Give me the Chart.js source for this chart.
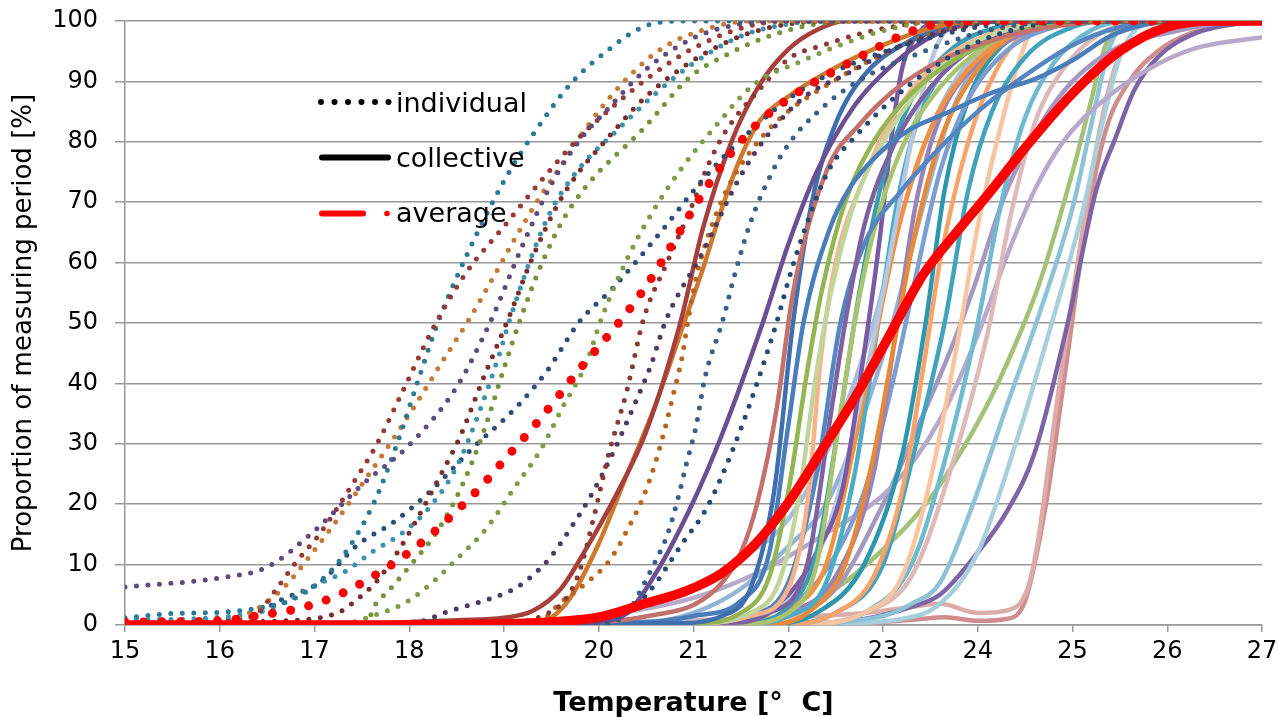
<!DOCTYPE html>
<html>
<head>
<meta charset="utf-8">
<script src="https://cdn.jsdelivr.net/npm/chart.js@4.4.0/dist/chart.umd.min.js"></script>
<style>
  html, body { margin: 0; padding: 0; background: #fff; }
  #wrap { width: 1279px; height: 717px; position: relative; }
</style>
</head>
<body>
<div id="wrap"><canvas id="chart"></canvas></div>
<script>
// proportion of measuring period [%] vs temperature as [T, %]

// individual (dotted) curves
const individualCurves = [
  [[15,6.3],[16,7.8],[16.5,9.6],[17,15.6],[17.5,23.2],[18,29.8],[18.5,39.4],[18.85,50],[19.2,63],[19.5,73],[19.8,80.3],[20.1,85.5],[20.5,92],[21,97.2],[21.5,99.5],[22,100],[27,100]],
  [[15,0.3],[16,0.5],[16.4,2],[16.6,6],[16.8,10.3],[17.05,15],[17.4,23.3],[17.66,30],[17.94,39],[18.27,49.7],[18.6,58.3],[19,66],[19.4,73.7],[19.8,80.8],[20.2,86.5],[20.6,91.5],[21,95.5],[21.5,98.8],[22,100],[27,100]],
  [[15,1.2],[15.5,1.9],[16,2.1],[16.4,2.8],[16.75,4.1],[17.05,7.1],[17.3,11.4],[17.62,20],[17.86,29.5],[18.1,40.8],[18.3,50],[18.6,61],[19,73.5],[19.34,82],[19.72,89.9],[20.1,95.2],[20.4,98.5],[20.65,99.8],[21,100],[27,100]],
  [[15,0.2],[16,0.3],[16.37,2.5],[16.67,6.1],[16.92,10.8],[17.22,17],[17.51,23.5],[17.8,30.1],[18.08,36.8],[18.34,43.4],[18.62,50.3],[18.87,57.1],[19.12,64.1],[19.38,70.9],[19.6,76],[19.9,83],[20.28,90.2],[20.67,95.5],[21.1,98.5],[21.6,100],[27,100]],
  [[15,0],[16,0.5],[16.9,0.9],[17.27,2.2],[17.47,4.5],[17.65,7.1],[17.87,11.9],[18.07,17.2],[18.31,24.2],[18.54,31.3],[18.77,40.4],[19.04,50.5],[19.3,60.8],[19.57,69.7],[19.8,75.2],[20.01,79.1],[20.5,87.5],[21,93.5],[21.5,97.5],[22,99.5],[22.5,100],[27,100]],
  [[15,0.8],[16,1.3],[16.5,2.5],[17.06,6.9],[17.32,8.8],[17.62,12.2],[17.94,15.4],[18.22,19.6],[18.5,26.2],[18.74,35.3],[18.95,44.8],[19.06,50.5],[19.31,61.8],[19.51,69],[19.8,75.7],[20.2,82],[20.6,88],[21,93],[21.5,97.5],[22,99.5],[22.5,100],[27,100]],
  [[15,0],[17.55,0],[17.62,2.8],[17.79,5.8],[18.04,10.4],[18.29,15.4],[18.54,22.5],[18.78,31.8],[19.01,43],[19.17,50.5],[19.4,59.9],[19.62,67],[19.83,71.9],[20,75],[20.46,82],[20.96,90.7],[21.3,94],[21.8,97.5],[22.3,99.5],[22.8,100],[27,100]],
  [[15,0],[17.2,0],[17.7,2],[17.97,3.8],[18.27,7.4],[18.46,10.3],[18.82,16.1],[19.1,22.5],[19.39,29.1],[19.62,36.1],[19.87,43.4],[20.03,50.8],[20.33,61.6],[20.58,68.7],[20.86,75.3],[21.26,83.1],[21.63,89.4],[22.16,93.5],[22.63,96.5],[23.1,98.8],[23.6,100],[27,100]],
  [[15,0.5],[16,0.8],[16.35,1.6],[16.64,4.1],[17.06,7.1],[17.45,13.2],[17.84,17.1],[18.24,22.4],[18.67,29.3],[19.14,36.2],[19.46,42.2],[19.8,50.3],[20.15,55.8],[20.63,64.6],[21.14,74.5],[21.67,82.8],[22.02,87.3],[22.37,90.7],[22.72,93.2],[23.07,95.2],[23.42,96.9],[24,99],[24.5,100],[27,100]],
  [[15,0],[19,0.3],[19.4,1.5],[19.66,4.5],[19.8,9],[19.95,18],[20.1,28],[20.3,39],[20.47,50.5],[20.72,60],[20.96,68.5],[21.17,76.7],[21.35,82],[21.67,88.2],[22.02,93.9],[22.37,96],[22.72,97.7],[23.2,99.3],[23.7,100],[27,100]],
  [[15,0],[18,0.3],[18.46,2.5],[18.88,4.5],[19.12,6.1],[19.33,8.6],[19.5,11.4],[19.71,16.2],[19.91,21.2],[20.15,28.5],[20.36,35.9],[20.55,43],[20.71,50.5],[21.1,61.8],[21.46,73.3],[21.73,80],[22.16,87.3],[22.65,91.5],[23.15,95.7],[23.7,98.5],[24.3,100],[27,100]],
  [[15,0],[19.3,0],[19.62,4],[19.91,7.5],[20.12,10.8],[20.31,16],[20.47,21.2],[20.6,27],[20.7,32.6],[20.79,38.4],[20.88,44.4],[20.94,50.2],[21.04,58.3],[21.15,64.2],[21.35,72],[21.63,79],[21.95,84.4],[22.44,89.7],[23,94.5],[23.5,97.8],[24,99.5],[24.5,100],[27,100]],
  [[15,0],[20,0],[20.3,2],[20.46,6.3],[20.59,10.3],[20.73,15.2],[20.84,21.2],[20.93,27],[21.03,33.1],[21.12,40.9],[21.31,50.5],[21.44,58.3],[21.6,66.6],[21.83,75],[22.02,80],[22.3,84.8],[22.72,89.9],[23.42,94.9],[24,98],[24.5,99.5],[25,100],[27,100]],
  [[15,0],[20,0],[20.43,3.8],[20.61,7.1],[20.75,10.4],[20.89,13.7],[21.14,19.4],[21.49,32.1],[21.86,49.2],[22.05,59.6],[22.28,70],[22.44,75.7],[22.72,81.1],[23.07,86.6],[23.5,92],[24,96.5],[24.5,99],[25,100],[27,100]]
];
const individualColors = ['#5e4a7e','#953a37','#2b7a93','#c47a34','#7a2e2b','#3a93aa','#76923c','#7e9b45',
  '#2c4d75','#8c3836','#4d3b62','#b9651e','#3a5f8b','#254a75'];

// collective (solid) curves
const collectiveCurves = [
  [[15,0],[17.5,0],[18,0.5],[18.5,0.8],[19,1.2],[19.3,2.3],[19.6,6],[19.9,13.5],[20.2,22],[20.5,32],[20.86,50],[21.1,65.7],[21.4,80],[21.7,89.5],[22,95.3],[22.3,98.5],[22.6,100],[27,100]],
  [[15,0],[19.3,0],[19.5,1.2],[19.7,4.5],[20,13.5],[20.3,25],[20.6,36.5],[20.9,50],[21.1,59],[21.3,69],[21.5,77.5],[21.7,83.5],[22,87.5],[22.5,92.3],[23,96],[23.5,98.8],[24,100],[27,100]],
  [[15,0],[19.5,0],[20,0.5],[20.3,2],[20.6,8.5],[21,20.5],[21.3,31.5],[21.73,50],[22,63],[22.3,75],[22.7,86],[23,91.3],[23.5,97.3],[24,99.7],[24.5,100],[27,100]],
  [[15,0],[20,0.5],[20.6,1.7],[21,3.3],[21.3,7],[21.5,12],[21.67,20],[21.88,36],[22.05,55],[22.4,75],[22.76,83],[23.1,88.3],[23.46,92.2],[23.8,94.8],[24.3,97.5],[25,99.5],[25.5,100],[27,100]],
  [[15,0],[20.8,0.3],[21.3,1.5],[21.6,6],[21.85,22],[22.05,50],[22.25,70],[22.5,83],[22.8,91],[23.2,96],[23.7,99],[24.2,100],[27,100]],
  [[15,0],[20.5,0.5],[21,1.5],[21.5,4],[21.8,12],[22,33],[22.16,50],[22.44,65.7],[22.65,72.4],[22.94,77.8],[23.28,82],[23.63,84.5],[24.13,88],[24.62,90.5],[25,93.5],[25.4,97.5],[25.8,99.5],[26.2,100],[27,100]],
  [[15,0],[21,0.3],[21.5,2],[21.8,8],[22,22],[22.2,42],[22.35,55],[22.6,70],[22.9,80],[23.3,88],[23.8,94],[24.3,97.5],[24.8,99.5],[25.2,100],[27,100]],
  [[15,0],[21,0.3],[21.6,2],[21.9,7],[22.1,20],[22.3,42],[22.45,55],[22.7,70],[23,80],[23.4,89],[23.8,95],[24.3,98.5],[25,100],[27,100]],
  [[15,0],[21,0.2],[21.6,1.5],[22,6],[22.2,20],[22.35,45],[22.5,60],[22.8,74],[23.1,84],[23.5,92],[24,97],[24.5,99.5],[25,100],[27,100]],
  [[15,0],[21.3,0.3],[21.8,2],[22.2,10],[22.45,35],[22.6,50],[22.8,66],[23.1,79],[23.5,89],[24,96],[24.5,99],[25,100],[27,100]],
  [[15,0],[21,0.2],[21.6,1.5],[22,7],[22.3,25],[22.55,50],[22.8,63],[23.2,72],[23.6,79],[24,85],[24.5,91],[25,96],[25.5,99],[26,100],[27,100]],
  [[15,0],[21.5,0.2],[22,2],[22.3,10],[22.55,35],[22.7,50],[22.9,65],[23.2,79],[23.6,89],[24.1,96],[24.6,99.5],[25,100],[27,100]],
  [[15,0],[21.5,0.3],[22,3],[22.3,12],[22.55,35],[22.75,55],[23,74],[23.3,87],[23.7,95],[24.2,99],[24.8,100],[27,100]],
  [[15,0],[21,0.3],[21.6,1.5],[22,5],[22.3,12],[22.58,23],[22.8,45],[22.95,62],[23.1,82],[23.2,92],[23.35,97.5],[23.6,100],[27,100]],
  [[15,0],[21,0.5],[21.7,2],[22.2,8],[22.5,20],[22.8,40],[23,55],[23.3,80],[23.5,93],[23.7,99],[24,100],[27,100]],
  [[15,0],[21.5,0.3],[22,2.5],[22.4,10],[22.7,30],[22.95,50],[23.2,68],[23.5,82],[23.9,92],[24.4,98],[25,100],[27,100]],
  [[15,0],[21.5,0.2],[22,1.5],[22.4,7],[22.7,25],[22.95,50],[23.15,70],[23.4,85],[23.8,94],[24.3,98.5],[25,100],[27,100]],
  [[15,0],[21.8,0.2],[22.2,2],[22.6,10],[22.9,28],[23.1,45],[23.3,62],[23.6,80],[24,92],[24.4,98],[25,100],[27,100]],
  [[15,0],[21.5,0.3],[22,2],[22.5,8],[22.9,25],[23.15,50],[23.35,70],[23.6,84],[24,93],[24.5,98],[25.2,100],[27,100]],
  [[15,0],[21.3,0.3],[21.8,2],[22.3,7],[22.8,22],[23.1,40],[23.35,58],[23.6,75],[23.9,87],[24.3,95],[24.8,99],[25.3,100],[27,100]],
  [[15,0],[20.5,0.5],[21,2],[21.5,6],[22,13],[22.4,20],[22.8,35],[23.1,50],[23.4,68],[23.7,84],[24,93],[24.4,98],[25,100],[27,100]],
  [[15,0],[19.5,0.3],[20,1],[20.5,3],[21,6.5],[21.5,11],[22,17.5],[22.5,32],[22.9,50],[23.2,68],[23.5,82],[23.8,91],[24.2,97],[24.7,99.5],[25,100],[27,100]],
  [[15,0],[21.8,0.2],[22.3,2],[22.8,10],[23.2,28],[23.45,50],[23.65,72],[23.9,87],[24.2,95],[24.7,99],[25.2,100],[27,100]],
  [[15,0],[22,0.2],[22.5,2],[22.9,8],[23.2,22],[23.45,45],[23.6,60],[23.9,80],[24.2,92],[24.5,98],[25,100],[27,100]],
  [[15,0],[22,0.3],[22.5,2],[23,10],[23.35,30],[23.65,50],[23.9,72],[24.15,85],[24.5,94],[25,99],[25.5,100],[27,100]],
  [[15,0],[22.2,0.2],[22.8,2],[23.2,8],[23.5,24],[23.8,48],[24,66],[24.25,83],[24.45,94],[24.6,99],[25,100],[27,100]],
  [[15,0],[22.3,0.2],[22.8,2],[23.3,10],[23.7,30],[24,50],[24.25,70],[24.5,84],[24.8,93],[25.2,98.5],[25.6,100],[27,100]],
  [[15,0],[22.3,0.3],[22.8,2],[23.3,8],[23.7,25],[24.1,48],[24.35,68],[24.6,83],[24.9,92],[25.3,98],[25.8,100],[27,100]],
  [[15,0],[19,0.3],[20,1.5],[21,4.5],[21.7,8.8],[22.4,15.2],[23.1,23],[23.6,34],[24,48],[24.33,62],[24.6,72],[24.9,80],[25.3,86.5],[25.8,92],[26.3,95.5],[27,97.3]],
  [[15,0],[21.5,0.3],[22,1.5],[22.5,6],[23,20],[23.4,34],[23.7,45],[23.95,55.5],[24.3,71.7],[24.66,82.8],[25,90],[25.5,95.8],[26,98],[26.5,99.5],[27,100]],
  [[15,0],[21.5,0.3],[22,2],[22.5,6],[23,12.5],[23.5,21],[24,33.5],[24.3,43],[24.66,57],[25,75],[25.2,87],[25.35,96],[25.5,99],[26,100],[27,100]],
  [[15,0],[22,0.3],[23,1.5],[23.3,3.5],[23.6,7],[23.95,20],[24.3,36],[24.66,52],[25,69],[25.2,83],[25.4,96],[25.6,99.5],[26,100],[27,100]],
  [[15,0],[22.5,0.3],[23.2,1],[23.6,3.5],[24,12],[24.4,30],[24.8,51],[25.1,68],[25.3,82],[25.5,94],[25.7,99],[26,100],[27,100]],
  [[15,0],[22,0.2],[22.8,1],[23.3,3],[23.6,5],[24,12],[24.3,18.6],[24.6,28.5],[24.95,50],[25.25,72],[25.45,80.5],[25.65,88.5],[25.9,94],[26.3,98],[26.8,99.7],[27,100]],
  [[15,0],[20,0.3],[21,0.8],[22,1.3],[22.8,2],[23.3,3],[23.6,3.5],[24,2],[24.35,2.6],[24.53,6.2],[24.63,13.4],[24.73,24.4],[24.83,36.2],[24.94,47.9],[25.05,59.6],[25.16,70.7],[25.3,83],[25.46,92.8],[25.7,97.4],[26.1,99.3],[27,100]],
  [[15,0],[22,0.2],[23,0.5],[23.4,1],[23.65,1.3],[24,0.7],[24.3,1],[24.5,4],[24.72,20],[24.93,42.7],[25.14,66],[25.35,81.8],[25.6,90],[25.9,95],[26.25,98],[26.7,99.5],[27,100]]
];
const collectiveColors = ['#a5403d','#cd7a2e','#6b4f93','#c4716e','#3f6fae','#4a7ebb','#93b552','#c0d59a',
  '#f7b48a','#7c62a0','#5585c2','#a9c46e','#3a9cb5','#7a5aa3','#b4c7e3','#f2913f','#4bacc6','#e8893a',
  '#9883b8','#7c9ed0','#95b3d7','#a7bedd','#2e97ae','#f7a46c','#42a3bd','#f9c4a0','#6fbad0','#ddb9b8',
  '#b7a9cc','#a497c0','#a3c278','#8ec3d6','#a7cfdc','#7e64a5','#ddabaa','#cf8e8c'];

// averages (red)
const averageIndividual = [[15,0.5],[16,0.7],[16.46,1.7],[16.85,2.8],[17.23,4.8],[17.57,7.6],[17.9,10.9],[18.21,14.7],[18.5,18.9],
  [18.78,23.3],[19.04,28],[19.3,32.6],[19.55,37.4],[19.79,42.2],[20.05,47],[20.3,51.8],[20.53,56.8],[20.74,62.1],[20.94,67.4],
  [21.14,72.5],[21.37,77.6],[21.63,82.3],[21.93,86.3],[22.26,89.7],[22.6,92.7],[22.95,95.7],[23.3,98.3],[23.6,99.6],[24,100],[27,100]];
const averageCollective = [[15,0],[17,0],[19,0.2],[19.5,0.5],[20,1.3],[20.5,3.6],[20.9,5.5],[21.3,8.6],[21.67,13.7],[22.02,20.7],
  [22.37,29.3],[22.72,38.1],[23.07,48],[23.42,57.9],[23.78,65.1],[24.13,71.7],[24.5,79],[25,88],[25.5,95],[26,99],[26.5,100],[27,100]];

const legendLabels = ['individual', 'collective', 'average'];
const FONT = '"DejaVu Sans", Verdana, sans-serif';

const datasets = [];
// first dataset is drawn on top
datasets.push({ data: averageIndividual, borderColor: '#ff0000', borderWidth: 9, borderDash: [0, 18.5], borderCapStyle: 'round' });
datasets.push({ data: averageCollective, borderColor: '#ff0000', borderWidth: 9.5 });
individualCurves.forEach((d, i) => datasets.push({
  data: d, borderColor: individualColors[i], borderWidth: 5, borderDash: [0, 11.5], borderCapStyle: 'round'
}));
collectiveCurves.forEach((d, i) => datasets.push({
  data: d, borderColor: collectiveColors[i], borderWidth: 4.5
}));

const legendInside = {
  id: 'legendInside',
  afterDatasetsDraw(chart) {
    const ctx = chart.ctx;
    ctx.save();
    ctx.fillStyle = '#000';
    for (let i = 0; i < 6; i++) {
      ctx.beginPath(); ctx.arc(321 + i * 13.5, 102, 3, 0, Math.PI * 2); ctx.fill();
    }
    ctx.lineCap = 'round';
    ctx.lineWidth = 6;
    ctx.strokeStyle = '#000';
    ctx.beginPath(); ctx.moveTo(322, 157.5); ctx.lineTo(388, 157.5); ctx.stroke();
    ctx.strokeStyle = '#ff0000';
    ctx.beginPath(); ctx.moveTo(322, 213.5); ctx.lineTo(363, 213.5); ctx.stroke();
    ctx.fillStyle = '#ff0000';
    ctx.beginPath(); ctx.arc(387, 213.5, 2.8, 0, Math.PI * 2); ctx.fill();
    ctx.fillStyle = '#000';
    ctx.font = '27px ' + FONT;
    ctx.textBaseline = 'alphabetic';
    ctx.fillText(legendLabels[0], 396, 112);
    ctx.fillText(legendLabels[1], 396, 167);
    ctx.fillText(legendLabels[2], 396, 222);
    ctx.restore();
  }
};

new Chart(document.getElementById('chart'), {
  type: 'line',
  data: { datasets },
  options: {
    responsive: true,
    maintainAspectRatio: false,
    devicePixelRatio: 1,
    animation: false,
    layout: { padding: { top: 21, right: 17, bottom: 0, left: 0 } },
    elements: {
      point: { radius: 0, hoverRadius: 0 },
      line: { cubicInterpolationMode: 'monotone', borderJoinStyle: 'round', fill: false }
    },
    plugins: { legend: { display: false }, tooltip: { enabled: false } },
    scales: {
      x: {
        type: 'linear', min: 15, max: 27,
        ticks: { stepSize: 1, color: '#000', font: { family: FONT, size: 24 }, padding: 5 },
        grid: { drawOnChartArea: false, tickLength: 7, color: '#989898', lineWidth: 1.5 },
        border: { color: '#989898', width: 1.5 },
        title: { display: true, text: 'Temperature [°  C]', color: '#000',
          font: { family: FONT, size: 27, weight: 'bold', lineHeight: 1 }, padding: { top: 0, bottom: 0 } },
        afterFit: s => { s.height = 92; s.paddingLeft = 0; s.paddingRight = 0; }
      },
      y: {
        min: 0, max: 100,
        ticks: { stepSize: 10, color: '#000', font: { family: FONT, size: 24 }, padding: 17 },
        grid: { color: '#989898', lineWidth: 1.5, tickLength: 10 },
        border: { color: '#989898', width: 1.5 },
        title: { display: true, text: 'Proportion of measuring period [%]', color: '#000',
          font: { family: FONT, size: 26 }, padding: { top: 9, bottom: 0 } },
        afterFit: s => { s.width = 125; s.paddingTop = 0; s.paddingBottom = 0; }
      }
    }
  },
  plugins: [legendInside]
});
</script>
</body>
</html>
